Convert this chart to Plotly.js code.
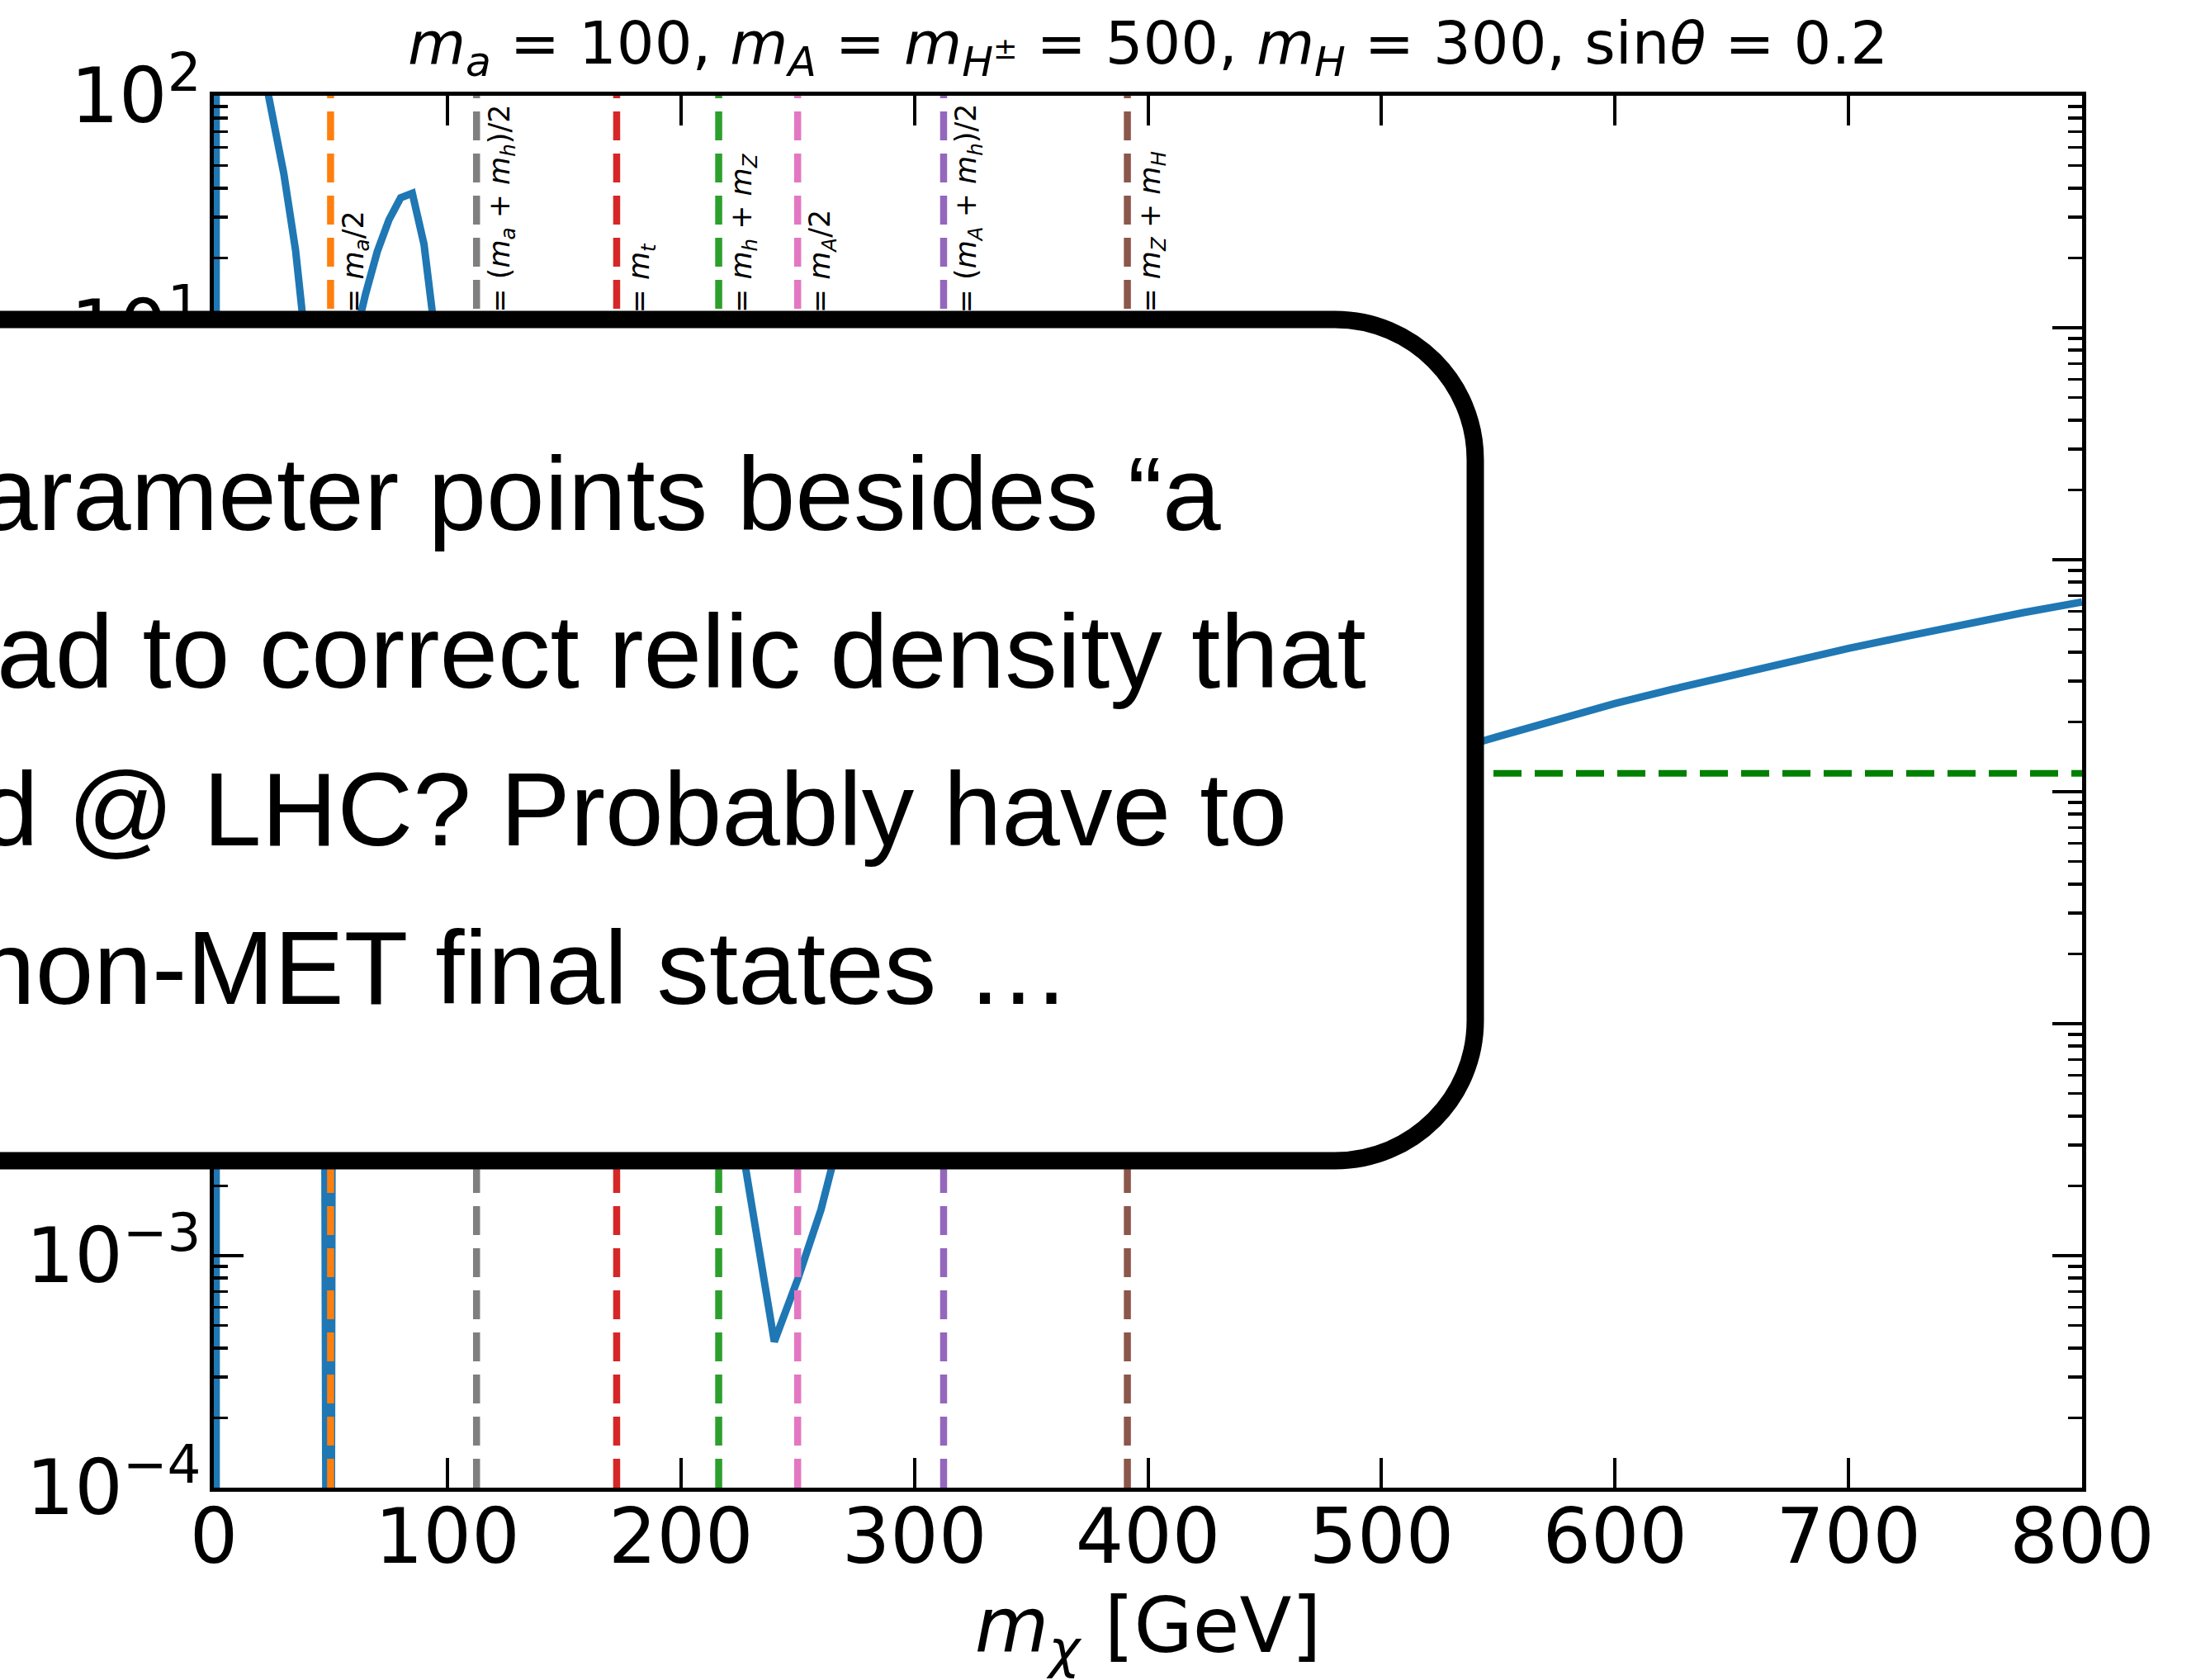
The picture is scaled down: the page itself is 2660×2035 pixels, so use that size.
<!DOCTYPE html>
<html>
<head>
<meta charset="utf-8">
<script src="https://cdn.plot.ly/plotly-3.0.1.min.js"></script>
<style>
html,body{margin:0;padding:0;background:#ffffff;}
#chart{width:2660px;height:2035px;}
</style>
</head>
<body>
<div id="chart"></div>
<script>
// ---- data ----
const mChi = [1, 1, 20, 25, 30, 35, 40, 47, 48, 49, 50, 51, 55, 60, 65, 70, 75, 80, 85, 90, 95,
              220, 230, 240, 250, 260, 270,
              525, 550, 575, 600, 625, 650, 675, 700, 725, 750, 775, 800];
const relic = [1e-10, 1e5, 150, 85, 46, 21.6, 7.3, 0.4, 1e-6, 1e-8, 1e-6, 0.4, 3, 8.6, 14.0, 21.3, 29.2, 36.3, 38.0, 22.9, 8.9,
               7.1e-3, 1.73e-3, 4.26e-4, 7.9e-4, 1.58e-3, 3.9e-3,
               0.146, 0.173, 0.205, 0.240, 0.277, 0.318, 0.364, 0.415, 0.468, 0.530, 0.592, 0.657];
const planck = 0.12;

const thresholdMass = [50, 112.5, 172.5, 216.19, 250, 312.5, 391.19];
const thresholdLabel = [
  "= <i>m</i><sub><i>a</i></sub>/2",
  "= (<i>m</i><sub><i>a</i></sub> + <i>m</i><sub><i>h</i></sub>)/2",
  "= <i>m</i><sub><i>t</i></sub>",
  "= <i>m</i><sub><i>h</i></sub> + <i>m</i><sub><i>Z</i></sub>",
  "= <i>m</i><sub><i>A</i></sub>/2",
  "= (<i>m</i><sub><i>A</i></sub> + <i>m</i><sub><i>h</i></sub>)/2",
  "= <i>m</i><sub><i>Z</i></sub> + <i>m</i><sub><i>H</i></sub>"
];
const thresholdColor = ["#ff7f0e", "#7f7f7f", "#d62728", "#2ca02c", "#e377c2", "#9467bd", "#8c564b"];

const xTicks = [0, 100, 200, 300, 400, 500, 600, 700, 800];
const yTicks = [1e-4, 1e-3, 1e-2, 1e-1, 1, 10, 100];
const yTickText = ["10<sup>\u22124</sup>", "10<sup>\u22123</sup>", "10<sup>\u22122</sup>", "10<sup>\u22121</sup>",
                   "10<sup>0</sup>", "10<sup>1</sup>", "10<sup>2</sup>"];

const calloutLines = [
  "arameter points besides \u201ca",
  "ad to correct relic density that",
  "d @ LHC? Probably have to",
  "non-MET final states \u2026"
];

// ---- layout geometry (pixels) ----
const W = 2660, H = 2035;
const ML = 259, MR = 138, MT = 116, MB = 233;
const PW = W - ML - MR, PH = H - MT - MB;
const px2paperX = p => (p - ML) / PW;
const px2paperY = p => (H - MB - p) / PH;

// minor ticks on the log axis (2..9 in each decade)
const yMinor = [];
for (let e = -4; e < 2; e++) for (let k = 2; k <= 9; k++) yMinor.push(k * Math.pow(10, e));

const FONT = "DejaVu Sans";

const traces = [{
  x: mChi, y: relic, type: "scatter", mode: "lines",
  line: {color: "#1f77b4", width: 9},
  hoverinfo: "skip", showlegend: false
}];

const shapes = [];
// Planck value line
shapes.push({type: "line", xref: "paper", x0: 0, x1: 1, yref: "y", y0: planck, y1: planck,
  line: {color: "green", width: 8, dash: "34px,16px"}});
// threshold lines
thresholdMass.forEach((m, i) => {
  shapes.push({type: "line", xref: "x", x0: m, x1: m, yref: "paper", y0: 0, y1: 1,
    line: {color: thresholdColor[i], width: 8.5, dash: "35px,16px"}});
});
// callout box (rounded rectangle running off the left edge)
(function () {
  const L = -400, T = 387, R = 1787, B = 1406, r = 170, k = 0.5523 * r;
  const P = (x, y) => px2paperX(x).toFixed(5) + "," + px2paperY(y).toFixed(5);
  const path = "M" + P(L, T) + " L" + P(R - r, T) +
    " C" + P(R - r + k, T) + " " + P(R, T + r - k) + " " + P(R, T + r) +
    " L" + P(R, B - r) +
    " C" + P(R, B - r + k) + " " + P(R - r + k, B) + " " + P(R - r, B) +
    " L" + P(L, B) + " Z";
  shapes.push({type: "path", xref: "paper", yref: "paper", path: path,
    fillcolor: "#ffffff", line: {color: "#000000", width: 21}, layer: "above"});
})();

const annotations = [];
thresholdMass.forEach((m, i) => {
  annotations.push({
    text: thresholdLabel[i], xref: "x", x: m, yref: "paper", y: px2paperY(380),
    xanchor: "left", yanchor: "bottom", xshift: 6, textangle: -90,
    showarrow: false, borderpad: 0,
    font: {family: FONT, size: 35, color: "#000000"}
  });
});
const calloutStart = [-26, -5, -25, -29];
const calloutBaseline = [642, 833, 1024, 1216];
const CFS = 127;
calloutLines.forEach((t, i) => {
  annotations.push({
    text: t, xref: "paper", x: px2paperX(calloutStart[i]), xanchor: "left",
    yref: "paper", y: px2paperY(calloutBaseline[i] - 0.3465 * CFS), yanchor: "middle",
    showarrow: false, borderpad: 0, align: "left",
    font: {family: "Liberation Sans", size: CFS, color: "#000000"}
  });
});

const axisCommon = {
  showline: true, linewidth: 5, linecolor: "#000000", mirror: "allticks",
  ticks: "inside", ticklen: 36, tickwidth: 4, tickcolor: "#000000",
  showgrid: false, zeroline: false, automargin: false,
  tickfont: {family: FONT, size: 92, color: "#000000"}
};

const layout = {
  width: W, height: H,
  margin: {l: ML, r: MR, t: MT, b: MB, pad: 0},
  paper_bgcolor: "#ffffff", plot_bgcolor: "#ffffff",
  showlegend: false,
  title: {
    text: "<i>m</i><sub><i>a</i></sub> = 100, <i>m</i><sub><i>A</i></sub> = <i>m</i><sub><i>H</i><sup>\u00b1</sup></sub> = 500, <i>m</i><sub><i>H</i></sub> = 300, sin<i>\u03b8</i> = 0.2",
    font: {family: FONT, size: 72, color: "#000000"},
    xref: "paper", x: 0.5, xanchor: "center",
    yref: "container", y: 1 - 52 / H, yanchor: "middle"
  },
  xaxis: Object.assign({}, axisCommon, {
    range: [0, 800], tickmode: "array", tickvals: xTicks, ticktext: xTicks.map(String),
    ticklabelstandoff: -24,
    title: {text: "<i>m</i><sub><i>\u03c7</i></sub> [GeV]", font: {family: FONT, size: 92, color: "#000000"}, standoff: 48}
  }),
  yaxis: Object.assign({}, axisCommon, {
    type: "log", range: [-4, 2], tickmode: "array", tickvals: yTicks, ticktext: yTickText,
    ticklabelstandoff: -8,
    minor: {tickmode: "array", tickvals: yMinor, ticks: "inside", ticklen: 17, tickwidth: 3.5, tickcolor: "#000000", showgrid: false}
  }),
  shapes: shapes,
  annotations: annotations
};

Plotly.newPlot("chart", traces, layout, {displayModeBar: false, staticPlot: true});
</script>
</body>
</html>
